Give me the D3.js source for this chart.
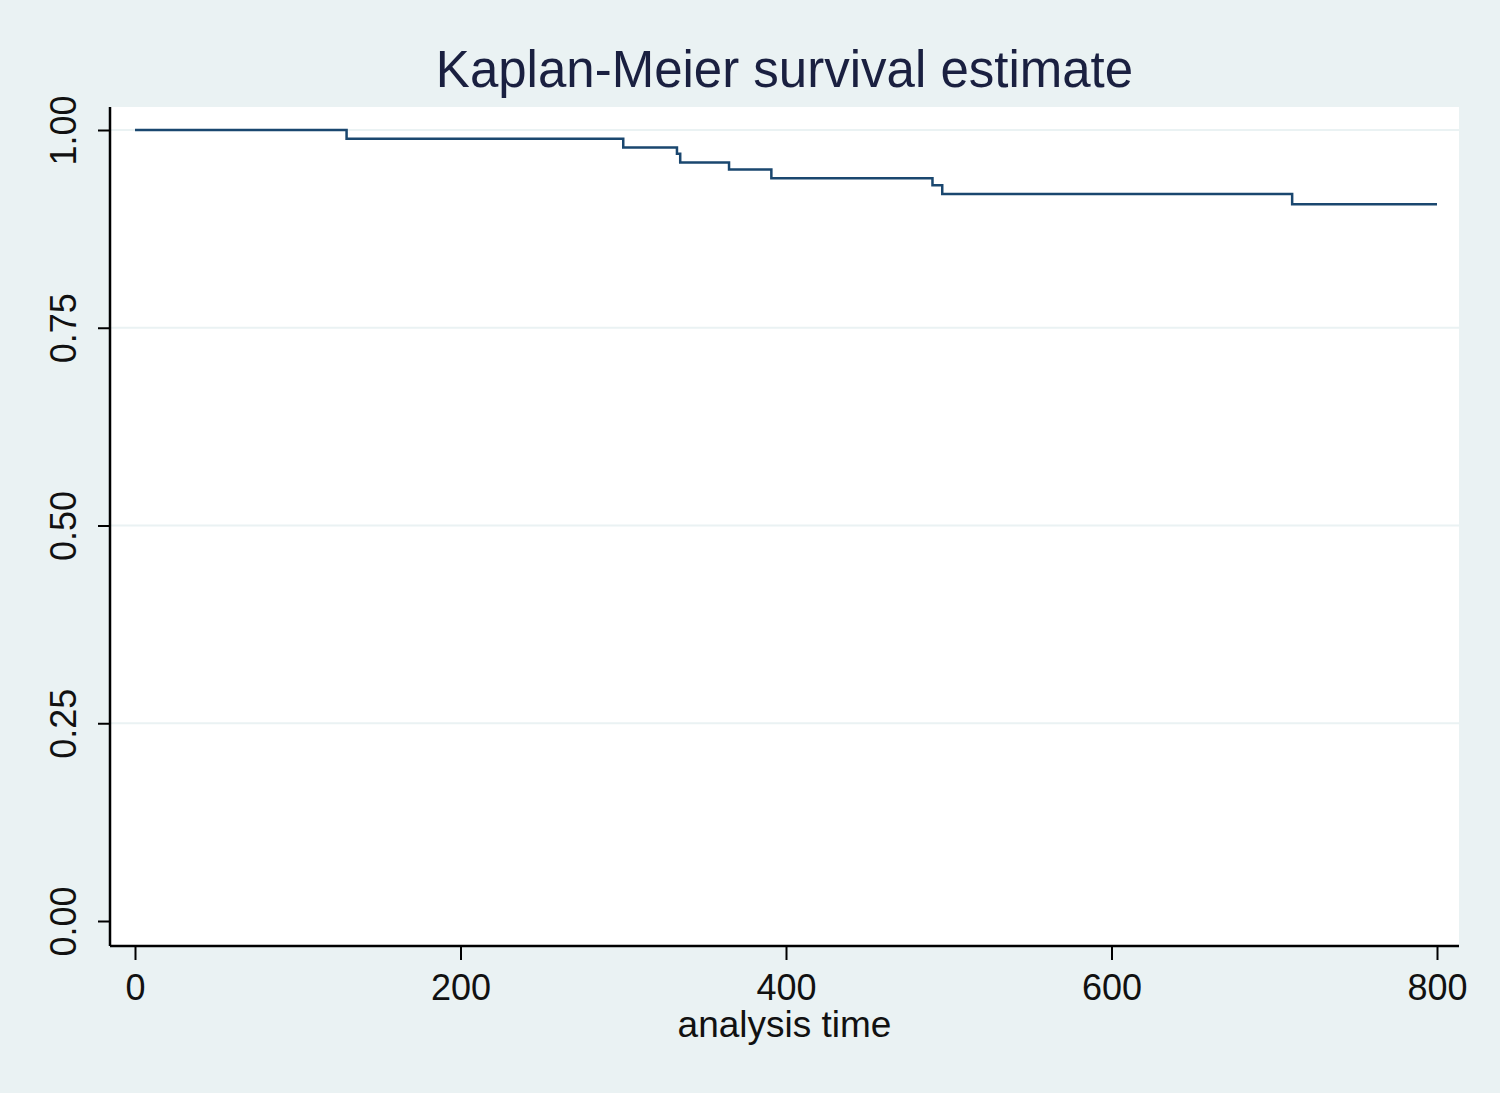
<!DOCTYPE html>
<html>
<head>
<meta charset="utf-8">
<script src="https://cdn.jsdelivr.net/npm/d3@7"></script>
<style>
  body { margin: 0; background: #eaf2f3; }
  svg { display: block; font-family: Arial, "Liberation Sans", sans-serif; }
</style>
</head>
<body>
<div class="container"></div>
<script>
// survival estimate
const times = [0, 130, 300, 333, 335, 365, 391, 490, 496, 711, 800];
const survival = [1, 0.989, 0.978, 0.970, 0.959, 0.950, 0.939, 0.930, 0.919, 0.906, 0.906];
const xTicks = [0, 200, 400, 600, 800];
const yTicks = [0, 0.25, 0.5, 0.75, 1];

const w = 1500;
const h = 1093;
// plot region
const pLeft = 110, pRight = 1459, pTop = 107, pBottom = 946;

const svg = d3.select('.container').append('svg')
    .attr('width', w)
    .attr('height', h);

svg.append('rect')
    .attr('width', w).attr('height', h)
    .attr('fill', '#eaf2f3');

svg.append('rect')
    .attr('x', pLeft).attr('y', pTop)
    .attr('width', pRight - pLeft).attr('height', pBottom - pTop)
    .attr('fill', '#ffffff');

const xScale = d3.scaleLinear().domain([0, 800]).range([135, 1437]);
const yScale = d3.scaleLinear().domain([0, 1]).range([921, 130]);

// grid lines
svg.append('g')
  .selectAll('line')
  .data(yTicks.filter(d => d > 0))
  .join('line')
    .attr('x1', pLeft).attr('x2', pRight)
    .attr('y1', d => yScale(d)).attr('y2', d => yScale(d))
    .attr('stroke', '#eaf2f3')
    .attr('stroke-width', 2);

// step line
const line = d3.line()
    .x((d, i) => xScale(times[i]))
    .y(d => yScale(d))
    .curve(d3.curveStepAfter);

svg.append('path')
    .datum(survival)
    .attr('d', line)
    .attr('fill', 'none')
    .attr('stroke', '#1a476f')
    .attr('stroke-width', 2.5);

// x axis
const xAxis = d3.axisBottom(xScale)
    .tickValues(xTicks)
    .tickSize(14)
    .tickPadding(14)
    .tickFormat(d3.format('d'));

const gx = svg.append('g')
    .attr('transform', 'translate(0,' + pBottom + ')')
    .call(xAxis);
gx.select('.domain').remove();
gx.append('line')
    .attr('x1', pLeft).attr('x2', pRight)
    .attr('stroke', '#000').attr('stroke-width', 2.5);
gx.selectAll('.tick line').attr('stroke', '#000').attr('stroke-width', 2);
gx.selectAll('.tick text')
    .attr('fill', '#111')
    .style('font-size', '36px')
    .style('font-family', 'Arial, "Liberation Sans", sans-serif');

// y axis
const yAxis = d3.axisLeft(yScale)
    .tickValues(yTicks)
    .tickSize(12)
    .tickFormat(d3.format('.2f'));

const gy = svg.append('g')
    .attr('transform', 'translate(' + pLeft + ',0)')
    .call(yAxis);
gy.select('.domain').remove();
gy.append('line')
    .attr('y1', pTop).attr('y2', pBottom)
    .attr('stroke', '#000').attr('stroke-width', 2.5);
gy.selectAll('.tick line').attr('stroke', '#000').attr('stroke-width', 2);
gy.selectAll('.tick text')
    .attr('x', null).attr('dy', null)
    .attr('transform', 'translate(-34,0) rotate(-90)')
    .attr('text-anchor', 'middle')
    .attr('fill', '#111')
    .style('font-size', '36px')
    .style('font-family', 'Arial, "Liberation Sans", sans-serif');

// title
svg.append('text')
    .attr('x', (pLeft + pRight) / 2)
    .attr('y', 87)
    .attr('text-anchor', 'middle')
    .attr('fill', '#1a2040')
    .style('font-size', '51px')
    .text('Kaplan-Meier survival estimate');

// x axis title
svg.append('text')
    .attr('x', (pLeft + pRight) / 2)
    .attr('y', 1037)
    .attr('text-anchor', 'middle')
    .attr('fill', '#111')
    .style('font-size', '37px')
    .text('analysis time');
</script>
</body>
</html>
